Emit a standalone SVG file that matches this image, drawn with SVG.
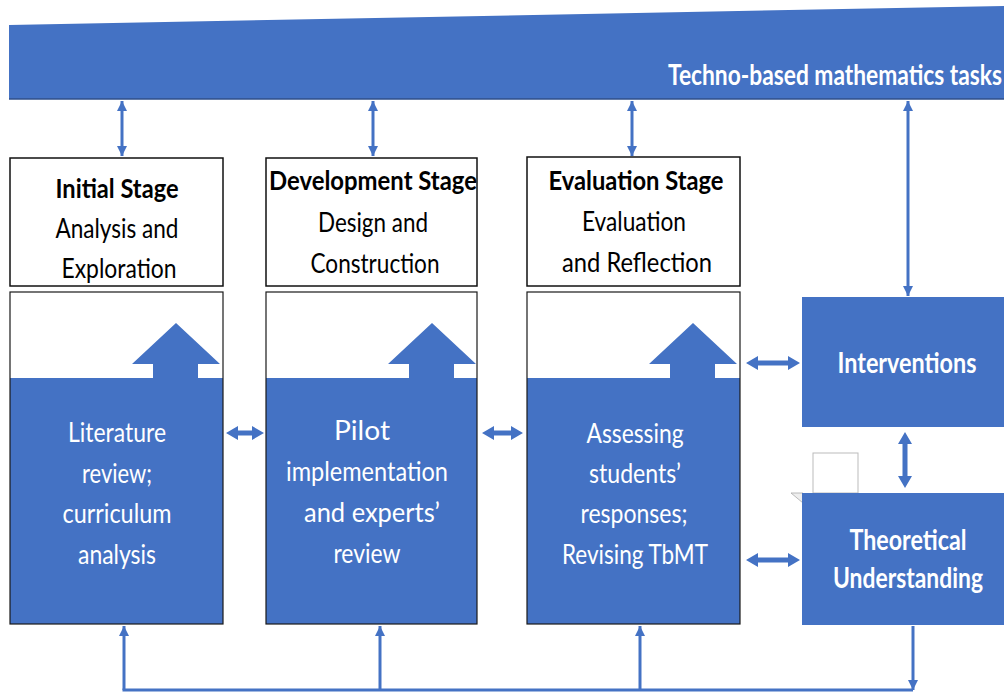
<svg xmlns="http://www.w3.org/2000/svg" width="1004" height="692" viewBox="0 0 1004 692">
<defs>
<style>
.blue{fill:#4472C4;}
.hdr{fill:#fff;stroke:#111;stroke-width:1.5;}
.frame{fill:none;stroke:#1a1a1a;stroke-width:1.2;}
.t{font-family:Lato,"Liberation Sans",sans-serif;text-anchor:middle;}
.hb{font-size:27px;font-weight:bold;fill:#000;}
.hn{font-size:27px;fill:#000;}
.w{font-size:27px;fill:#fff;}
.wb{font-size:29px;font-weight:bold;fill:#fff;}
.ln{stroke:#4472C4;stroke-width:3;fill:none;}
.blk{fill:#4472C4;}
</style>
<marker id="ah" viewBox="0 0 10 10" refX="10" refY="5" markerWidth="10" markerHeight="11" markerUnits="userSpaceOnUse" orient="auto-start-reverse">
<path d="M0,0 L10,5 L0,10 z" fill="#4472C4"/>
</marker>
</defs>

<g id="banner">
<polygon points="9,25 1004,6 1004,99 9,99" class="blue"/>
<line x1="9" y1="99" x2="1004" y2="99" stroke="#2f4f8a" stroke-width="1.5"/>
<text x="668" y="85" font-family="Lato,'Liberation Sans',sans-serif" font-size="29" font-weight="bold" fill="#fff" textLength="334" lengthAdjust="spacingAndGlyphs">Techno-based mathematics tasks</text>
</g>

<g id="initial-stage">
<rect x="10" y="158" width="213" height="128" class="hdr"/>
<text class="t hb" x="117" y="198" textLength="123" lengthAdjust="spacingAndGlyphs">Initial Stage</text>
<text class="t hn" x="117" y="238" textLength="123" lengthAdjust="spacingAndGlyphs">Analysis and</text>
<text class="t hn" x="119" y="278" textLength="115" lengthAdjust="spacingAndGlyphs">Exploration</text>
</g>

<g id="development-stage">
<rect x="266" y="158" width="211" height="128" class="hdr"/>
<text class="t hb" x="373" y="190" textLength="208" lengthAdjust="spacingAndGlyphs">Development  Stage</text>
<text class="t hn" x="373" y="232" textLength="110" lengthAdjust="spacingAndGlyphs">Design and</text>
<text class="t hn" x="375" y="273" textLength="129" lengthAdjust="spacingAndGlyphs">Construction</text>
</g>

<g id="evaluation-stage">
<rect x="527" y="157" width="213" height="129" class="hdr"/>
<text class="t hb" x="636" y="190" textLength="175" lengthAdjust="spacingAndGlyphs">Evaluation  Stage</text>
<text class="t hn" x="634" y="231" textLength="104" lengthAdjust="spacingAndGlyphs">Evaluation</text>
<text class="t hn" x="637" y="272" textLength="150" lengthAdjust="spacingAndGlyphs">and  Reflection</text>
</g>

<g id="literature-review">
<rect x="10" y="292" width="213" height="332" fill="#fff"/>
<rect x="10" y="378" width="213" height="246" class="blue"/>
<polygon points="153,378 153,364 132,364 176,323 220,364 198,364 198,378" class="blue"/>
<rect x="10" y="292" width="213" height="332" class="frame"/>
<text class="t w" x="117" y="442" textLength="98" lengthAdjust="spacingAndGlyphs">Literature</text>
<text class="t w" x="117" y="483" textLength="70" lengthAdjust="spacingAndGlyphs">review;</text>
<text class="t w" x="117" y="523" textLength="109" lengthAdjust="spacingAndGlyphs">curriculum</text>
<text class="t w" x="117" y="564" textLength="78" lengthAdjust="spacingAndGlyphs">analysis</text>
</g>

<g id="pilot-implementation">
<rect x="266" y="292" width="211" height="332" fill="#fff"/>
<rect x="266" y="378" width="211" height="246" class="blue"/>
<polygon points="409,378 409,364 388,364 432,323 476,364 454,364 454,378" class="blue"/>
<rect x="266" y="292" width="211" height="332" class="frame"/>
<text class="t w" x="362" y="440" textLength="56" lengthAdjust="spacingAndGlyphs">Pilot</text>
<text class="t w" x="367" y="481" textLength="162" lengthAdjust="spacingAndGlyphs">implementation</text>
<text class="t w" x="372" y="522" textLength="136" lengthAdjust="spacingAndGlyphs">and experts’</text>
<text class="t w" x="367" y="563" textLength="67" lengthAdjust="spacingAndGlyphs">review</text>
</g>

<g id="assessing-responses">
<rect x="527" y="292" width="213" height="332" fill="#fff"/>
<rect x="527" y="378" width="213" height="246" class="blue"/>
<polygon points="670,378 670,364 649,364 693,323 737,364 715,364 715,378" class="blue"/>
<rect x="527" y="292" width="213" height="332" class="frame"/>
<text class="t w" x="635" y="443" textLength="97" lengthAdjust="spacingAndGlyphs">Assessing</text>
<text class="t w" x="635" y="483" textLength="92" lengthAdjust="spacingAndGlyphs">students’</text>
<text class="t w" x="634" y="523" textLength="107" lengthAdjust="spacingAndGlyphs">responses;</text>
<text class="t w" x="635" y="564" textLength="146" lengthAdjust="spacingAndGlyphs">Revising TbMT</text>
</g>

<g id="interventions">
<rect x="802" y="297" width="202" height="130" class="blue"/>
<text class="t wb" x="907" y="373" textLength="139" lengthAdjust="spacingAndGlyphs">Interventions</text>
</g>

<g id="theoretical-understanding">
<rect x="813" y="453" width="45" height="40" fill="#fff" stroke="#bbb" stroke-width="1"/>
<polygon points="791,493 803,493 803,503" fill="#eee" stroke="#aaa" stroke-width="0.8"/>
<rect x="802" y="493" width="202" height="132" class="blue"/>
<text class="t wb" x="908" y="550" textLength="117" lengthAdjust="spacingAndGlyphs">Theoretical</text>
<text class="t wb" x="908" y="588" textLength="150" lengthAdjust="spacingAndGlyphs">Understanding</text>
</g>

<g id="connectors">
<line x1="122" y1="101" x2="122" y2="156" class="ln" marker-start="url(#ah)" marker-end="url(#ah)"/>
<line x1="373" y1="101" x2="373" y2="156" class="ln" marker-start="url(#ah)" marker-end="url(#ah)"/>
<line x1="632" y1="101" x2="632" y2="156" class="ln" marker-start="url(#ah)" marker-end="url(#ah)"/>
<line x1="908" y1="101" x2="908" y2="296" class="ln" marker-start="url(#ah)" marker-end="url(#ah)"/>
<polygon class="blk" points="226,433 238,426 238,430.5 252,430.5 252,426 264,433 252,440 252,435.5 238,435.5 238,440"/>
<polygon class="blk" points="482,433 494,426 494,430.5 511,430.5 511,426 523,433 511,440 511,435.5 494,435.5 494,440"/>
<polygon class="blk" points="746,363 758,356 758,360.5 788,360.5 788,356 800,363 788,370 788,365.5 758,365.5 758,370"/>
<polygon class="blk" points="746,560 758,553 758,557.5 788,557.5 788,553 800,560 788,567 788,562.5 758,562.5 758,567"/>
<polygon class="blk" points="905,432 912,444 907.5,444 907.5,476 912,476 905,488 898,476 902.5,476 902.5,444 898,444"/>
<line x1="913" y1="626" x2="913" y2="690" class="ln" marker-end="url(#ah)"/>
<polyline points="913,690 122.5,690" class="ln"/>
<line x1="124" y1="690" x2="124" y2="626" class="ln" marker-end="url(#ah)"/>
<line x1="380" y1="690" x2="380" y2="626" class="ln" marker-end="url(#ah)"/>
<line x1="640" y1="690" x2="640" y2="626" class="ln" marker-end="url(#ah)"/>
</g>
</svg>
